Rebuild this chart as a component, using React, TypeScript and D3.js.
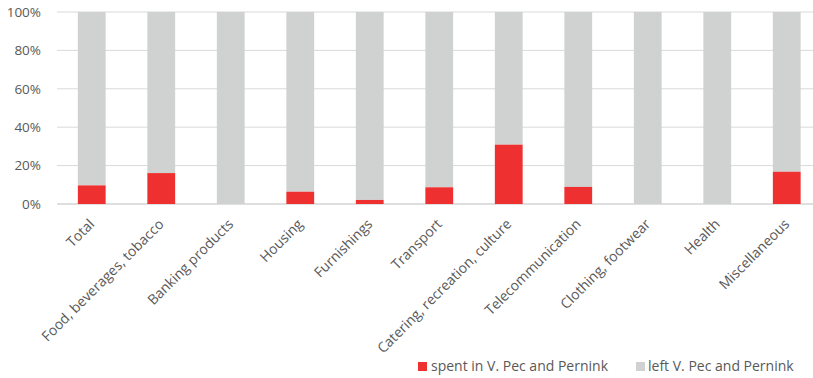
import React from "react";
import * as d3 from "d3";

const categories = [
  "Total",
  "Food, beverages, tobacco",
  "Banking products",
  "Housing",
  "Furnishings",
  "Transport",
  "Catering, recreation, culture",
  "Telecommunication",
  "Clothing, footwear",
  "Health",
  "Miscellaneous",
];
const spent = [9.7, 16.1, 0, 6.4, 2.1, 8.7, 30.9, 8.9, 0, 0, 16.8];
const left = spent.map((v) => 100 - v);
const yTicks = [0, 20, 40, 60, 80, 100];
const seriesNames = ["spent in V. Pec and Pernink", "left V. Pec and Pernink"];
const colors = ["#EF3030", "#D0D1D1"];

const W = 813;
const H = 378;
const FONT = "'Open Sans', sans-serif";

export default function App() {
  const x = d3.scaleBand<string>().domain(categories).range([57, 821.5]).paddingInner(0.6).paddingOuter(0.3);
  const y = d3.scaleLinear().domain([0, 100]).range([204, 12]);
  const stack = categories.map((c, i) => ({ c, s: spent[i], l: left[i] }));

  return (
    <svg width={W} height={H} style={{ position: "absolute", left: 0, top: 0, background: "#fff" }} fontFamily={FONT}>
      {yTicks.map((t) => (
        <g key={t}>
          <line x1={57} x2={813} y1={y(t)} y2={y(t)} stroke={t === 0 ? "#d4d4d4" : "#d9d9d9"} strokeWidth={t === 0 ? 1.5 : 1} />
          <text x={41} y={y(t)} dy="0.35em" textAnchor="end" fontSize={13.5} fill="#595959">
            {t}%
          </text>
        </g>
      ))}
      {stack.map((d) => (
        <g key={d.c}>
          <rect x={x(d.c)} width={x.bandwidth()} y={y(100)} height={y(d.s) - y(100)} fill={colors[1]} />
          {d.s > 0 && (
            <rect x={x(d.c)} width={x.bandwidth()} y={y(d.s)} height={y(0) - y(d.s)} fill={colors[0]} />
          )}
        </g>
      ))}
      {categories.map((c) => {
        const cx = (x(c) as number) + x.bandwidth() / 2 + 3.5;
        const cy = 225;
        return (
          <text key={c} transform={`translate(${cx},${cy}) rotate(-45)`} textAnchor="end" fontSize={14} fill="#595959">
            {c}
          </text>
        );
      })}
      <g>
        <rect x={418} y={362} width={9} height={9} fill={colors[0]} />
        <text x={431} y={370.5} fontSize={14} fill="#595959">{seriesNames[0]}</text>
        <rect x={636} y={362} width={9} height={9} fill={colors[1]} />
        <text x={648} y={370.5} fontSize={14} fill="#595959">{seriesNames[1]}</text>
      </g>
    </svg>
  );
}
